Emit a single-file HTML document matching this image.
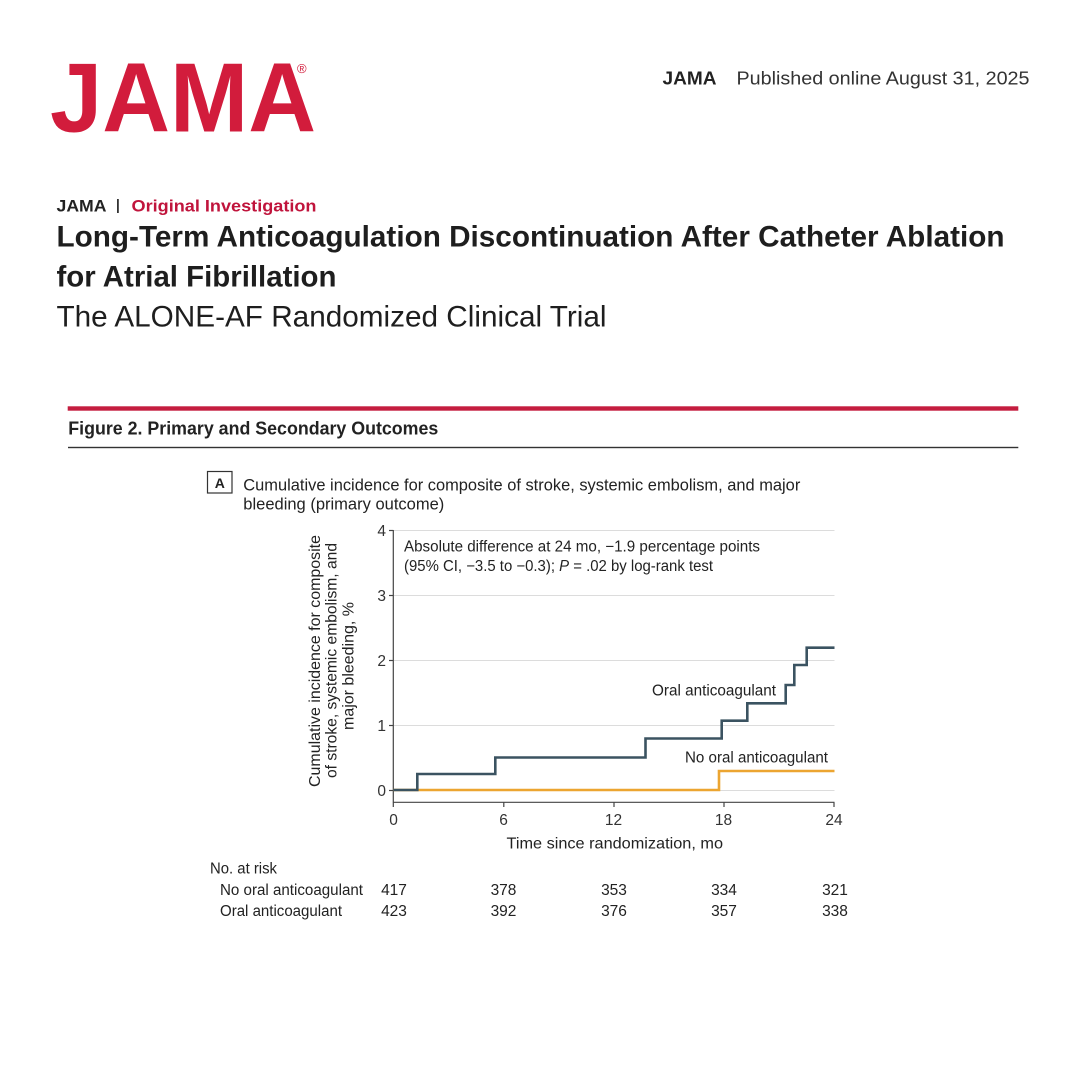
<!DOCTYPE html>
<html>
<head>
<meta charset="utf-8">
<style>
  html,body{margin:0;padding:0;background:#fff;}
  svg{display:block;}
  text{font-family:"Liberation Sans", sans-serif;}
</style>
</head>
<body>
<svg width="1080" height="1080" viewBox="0 0 1080 1080" xmlns="http://www.w3.org/2000/svg">
  <rect x="0" y="0" width="1080" height="1080" fill="#ffffff"/>

  <!-- Logo -->
  <text x="50" y="131.7" font-size="98" font-weight="bold" fill="#d21c3c" textLength="266" lengthAdjust="spacingAndGlyphs">JAMA</text>
  <text x="297" y="73" font-size="13" fill="#d21c3c">®</text>

  <!-- Top right -->
  <text x="662.5" y="84.3" font-size="18" font-weight="bold" fill="#222" textLength="54" lengthAdjust="spacingAndGlyphs">JAMA</text>
  <text x="736.5" y="84.3" font-size="18.5" fill="#333" textLength="293" lengthAdjust="spacingAndGlyphs">Published online August  31, 2025</text>

  <!-- Journal section -->
  <text x="56.5" y="211.7" font-size="17" font-weight="bold" fill="#222" textLength="50" lengthAdjust="spacingAndGlyphs">JAMA</text>
  <rect x="117" y="199" width="1.8" height="14" fill="#333"/>
  <text x="131.5" y="211.7" font-size="17" font-weight="bold" fill="#c0143c" textLength="185" lengthAdjust="spacingAndGlyphs">Original Investigation</text>

  <!-- Title -->
  <text x="56.5" y="246.7" font-size="30" font-weight="bold" fill="#1e1e1e" textLength="948" lengthAdjust="spacingAndGlyphs">Long-Term Anticoagulation Discontinuation After Catheter Ablation</text>
  <text x="56.5" y="286.7" font-size="30" font-weight="bold" fill="#1e1e1e" textLength="280" lengthAdjust="spacingAndGlyphs">for Atrial Fibrillation</text>
  <text x="56.5" y="326.7" font-size="30" fill="#1e1e1e" textLength="550" lengthAdjust="spacingAndGlyphs">The ALONE-AF Randomized Clinical Trial</text>

  <!-- Figure header -->
  <rect x="67.7" y="406.3" width="950.6" height="4.4" fill="#c41d3f"/>
  <text x="68.3" y="434.7" font-size="18" font-weight="bold" fill="#222" textLength="370" lengthAdjust="spacingAndGlyphs">Figure 2. Primary and Secondary Outcomes</text>
  <rect x="68" y="446.8" width="950.3" height="1.4" fill="#333"/>

  <!-- Panel A label -->
  <rect x="207.5" y="471.5" width="24.5" height="21.5" fill="none" stroke="#333" stroke-width="1.2"/>
  <text x="219.8" y="488" font-size="14" font-weight="bold" fill="#222" text-anchor="middle">A</text>
  <text x="243.3" y="490.5" font-size="16.5" fill="#222" textLength="557" lengthAdjust="spacingAndGlyphs">Cumulative incidence for composite of stroke, systemic embolism, and major</text>
  <text x="243.3" y="509.3" font-size="16.5" fill="#222" textLength="201" lengthAdjust="spacingAndGlyphs">bleeding (primary outcome)</text>

  <!-- Gridlines -->
  <g stroke="#dcdcdc" stroke-width="1">
    <line x1="393" y1="530.5" x2="834.5" y2="530.5"/>
    <line x1="393" y1="595.5" x2="834.5" y2="595.5"/>
    <line x1="393" y1="660.5" x2="834.5" y2="660.5"/>
    <line x1="393" y1="725.5" x2="834.5" y2="725.5"/>
    <line x1="393" y1="790.5" x2="834.5" y2="790.5"/>
  </g>

  <!-- Axes -->
  <g stroke="#444" stroke-width="1.2" fill="none">
    <line x1="393.3" y1="530" x2="393.3" y2="802.5"/>
    <line x1="393.3" y1="802.3" x2="834.5" y2="802.3"/>
    <!-- y ticks -->
    <line x1="389" y1="530.5" x2="393.3" y2="530.5"/>
    <line x1="389" y1="595.5" x2="393.3" y2="595.5"/>
    <line x1="389" y1="660.5" x2="393.3" y2="660.5"/>
    <line x1="389" y1="725.5" x2="393.3" y2="725.5"/>
    <line x1="389" y1="790.5" x2="393.3" y2="790.5"/>
    <!-- x ticks -->
    <line x1="393.3" y1="802.3" x2="393.3" y2="807"/>
    <line x1="503.8" y1="802.3" x2="503.8" y2="807"/>
    <line x1="614" y1="802.3" x2="614" y2="807"/>
    <line x1="724" y1="802.3" x2="724" y2="807"/>
    <line x1="834" y1="802.3" x2="834" y2="807"/>
  </g>

  <!-- Y tick labels -->
  <g font-size="15.5" fill="#333" text-anchor="end">
    <text x="386" y="536">4</text>
    <text x="386" y="601">3</text>
    <text x="386" y="666">2</text>
    <text x="386" y="731">1</text>
    <text x="386" y="796">0</text>
  </g>

  <!-- X tick labels -->
  <g font-size="15.5" fill="#333" text-anchor="middle">
    <text x="393.5" y="825">0</text>
    <text x="503.5" y="825">6</text>
    <text x="613.5" y="825">12</text>
    <text x="723.5" y="825">18</text>
    <text x="834" y="825">24</text>
  </g>

  <!-- X title -->
  <text x="506.5" y="848.3" font-size="16" fill="#222" textLength="216.5" lengthAdjust="spacingAndGlyphs">Time since randomization, mo</text>

  <!-- Y title (rotated) -->
  <text transform="translate(320,661) rotate(-90)" font-size="16" fill="#222" text-anchor="middle" textLength="252" lengthAdjust="spacingAndGlyphs">Cumulative incidence for composite</text>
  <text transform="translate(336.5,660.5) rotate(-90)" font-size="16" fill="#222" text-anchor="middle" textLength="235" lengthAdjust="spacingAndGlyphs">of stroke, systemic embolism, and</text>
  <text transform="translate(353.5,666) rotate(-90)" font-size="16" fill="#222" text-anchor="middle" textLength="128" lengthAdjust="spacingAndGlyphs">major bleeding, %</text>

  <!-- Annotation -->
  <text x="404" y="551.7" font-size="15.5" fill="#222" textLength="356" lengthAdjust="spacingAndGlyphs">Absolute difference at 24 mo, −1.9 percentage points</text>
  <text x="404" y="571" font-size="15.5" fill="#222" textLength="309" lengthAdjust="spacingAndGlyphs">(95% CI, −3.5 to −0.3); <tspan font-style="italic">P</tspan> = .02 by log-rank test</text>

  <!-- Series: No oral anticoagulant (orange) -->
  <polyline fill="none" stroke="#eca531" stroke-width="2.6" stroke-linejoin="miter"
    points="393.3,790 719,790 719,771 834.5,771"/>

  <!-- Series: Oral anticoagulant (slate) -->
  <polyline fill="none" stroke="#3b5361" stroke-width="2.6" stroke-linejoin="miter"
    points="393.3,790 417.3,790 417.3,774 495.3,774 495.3,757.5 645.5,757.5 645.5,738.5 721.7,738.5 721.7,720.7 747.3,720.7 747.3,703.3 785.7,703.3 785.7,685 794.3,685 794.3,665 806.7,665 806.7,647.7 834.5,647.7"/>

  <!-- Series labels -->
  <text x="652" y="695.5" font-size="15.5" fill="#222" textLength="124" lengthAdjust="spacingAndGlyphs">Oral anticoagulant</text>
  <text x="685" y="762.7" font-size="15.5" fill="#222" textLength="143" lengthAdjust="spacingAndGlyphs">No oral anticoagulant</text>

  <!-- No. at risk -->
  <text x="210" y="873.3" font-size="15.5" fill="#222" textLength="67" lengthAdjust="spacingAndGlyphs">No. at risk</text>
  <text x="220" y="895" font-size="15.5" fill="#222" textLength="143" lengthAdjust="spacingAndGlyphs">No oral anticoagulant</text>
  <text x="220" y="916" font-size="15.5" fill="#222" textLength="122" lengthAdjust="spacingAndGlyphs">Oral anticoagulant</text>
  <g font-size="15.5" fill="#222" text-anchor="middle">
    <text x="394" y="895">417</text>
    <text x="503.5" y="895">378</text>
    <text x="614" y="895">353</text>
    <text x="724" y="895">334</text>
    <text x="835" y="895">321</text>
    <text x="394" y="916">423</text>
    <text x="503.5" y="916">392</text>
    <text x="614" y="916">376</text>
    <text x="724" y="916">357</text>
    <text x="835" y="916">338</text>
  </g>
</svg>
</body>
</html>
